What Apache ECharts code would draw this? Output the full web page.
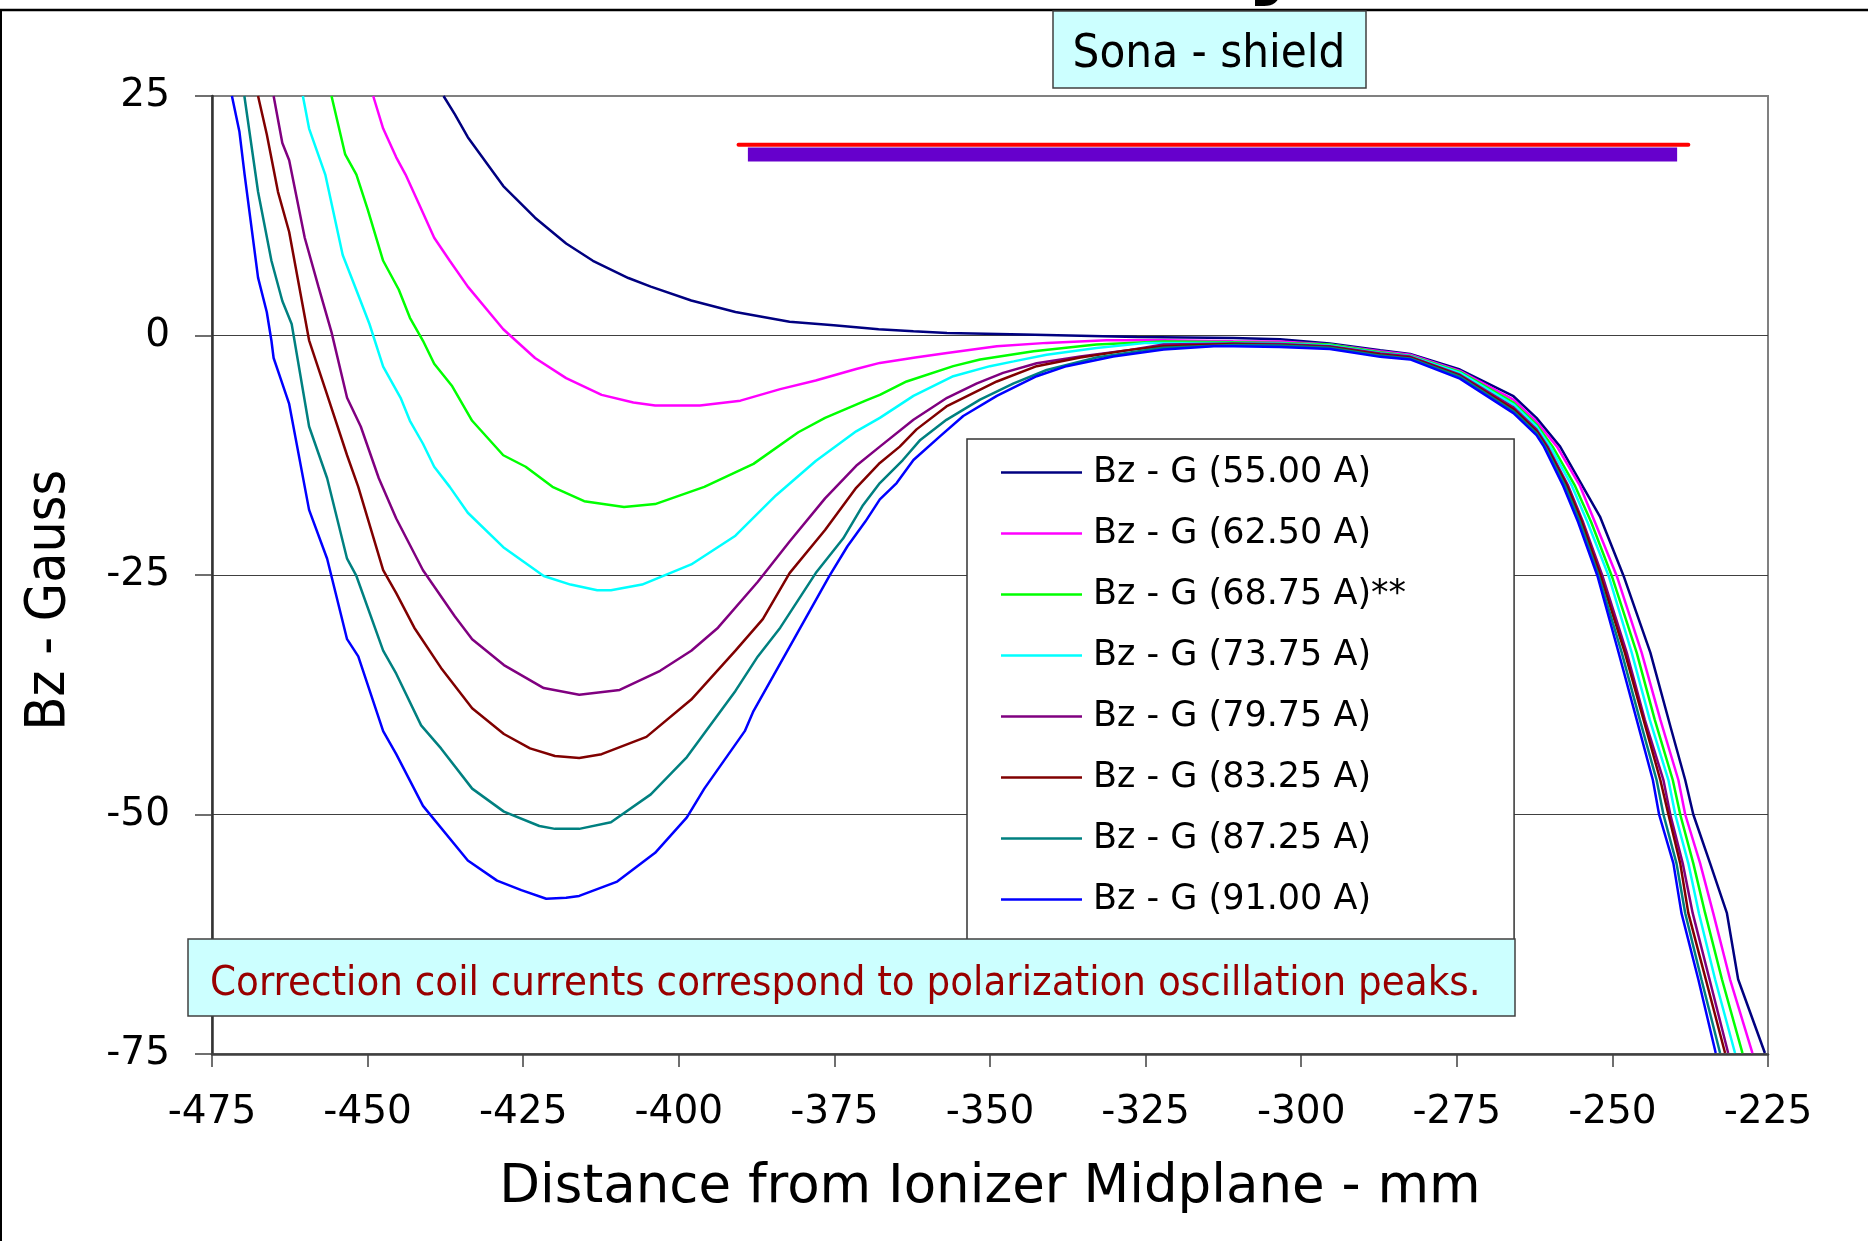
<!DOCTYPE html>
<html>
<head>
<meta charset="utf-8">
<script src="https://cdn.jsdelivr.net/npm/echarts@6/dist/echarts.min.js"></script>
<style>
html,body{margin:0;padding:0;background:#fff;}
#c{width:1868px;height:1241px;}
</style>
</head>
<body>
<div id="c"></div>
<script>
// ---------- data (x = distance mm, y = Bz gauss) ----------
const seriesNames = ['Bz - G (55.00 A)','Bz - G (62.50 A)','Bz - G (68.75 A)**','Bz - G (73.75 A)',
                     'Bz - G (79.75 A)','Bz - G (83.25 A)','Bz - G (87.25 A)','Bz - G (91.00 A)'];
const seriesColors = ['#000080','#FF00FF','#00FF00','#00FFFF','#800080','#800000','#008080','#0000FF'];

const bz5500 = [[-437.8,25],[-436.0,23.1],[-433.9,20.7],[-428.2,15.6],[-423.1,12.3],[-418.1,9.6],[-413.8,7.8],
  [-408.1,6.0],[-404.5,5.1],[-398.0,3.65],[-390.9,2.45],[-382.2,1.43],[-375.1,1.07],[-367.9,0.65],[-362.3,0.45],
  [-356.9,0.27],[-344.6,0.1],[-326.4,-0.15],[-310.9,-0.25],[-303.4,-0.4],[-295.4,-0.84],[-287.3,-1.54],
  [-282.5,-1.92],[-274.5,-3.55],[-265.9,-6.34],[-262.2,-8.6],[-258.4,-11.6],[-252.0,-18.9],[-248.2,-25.1],
  [-246.1,-29.0],[-243.9,-33.1],[-240.6,-41.0],[-238.3,-46.4],[-237.0,-50.0],[-234.3,-55.1],[-231.6,-60.3],
  [-229.8,-67.2],[-225.5,-74.9]];
const bz6250 = [[-449.1,25],[-447.5,21.6],[-445.4,18.6],[-443.9,16.8],[-441.8,13.8],[-439.3,10.2],[-436.8,7.8],
  [-433.9,5.1],[-428.2,0.65],[-423.1,-2.35],[-418.1,-4.45],[-412.4,-6.2],[-407.3,-7.0],[-403.8,-7.3],[-396.6,-7.3],
  [-390.1,-6.8],[-383.7,-5.6],[-378.0,-4.7],[-371.5,-3.5],[-367.7,-2.86],[-362.0,-2.3],[-356.9,-1.82],
  [-348.9,-1.12],[-340.9,-0.77],[-331.3,-0.49],[-322.1,-0.49],[-310.9,-0.6],[-303.4,-0.63],[-295.4,-0.95],
  [-287.3,-1.64],[-282.5,-2.0],[-274.5,-3.7],[-265.9,-6.7],[-262.2,-9.0],[-258.9,-11.6],[-255.2,-15.7],
  [-252.8,-19.5],[-249.3,-25.1],[-245.3,-33.1],[-242.3,-40.1],[-239.4,-46.4],[-238.3,-50.0],[-235.9,-55.1],
  [-233.8,-60.3],[-231.1,-67.2],[-227.5,-74.9]];
const bz6875 = [[-455.8,25],[-453.6,18.9],[-451.8,16.8],[-450.0,13.2],[-447.5,7.8],[-445.0,4.8],[-443.2,1.85],
  [-441.1,-0.55],[-439.3,-2.95],[-436.4,-5.3],[-433.2,-8.9],[-428.2,-12.5],[-424.6,-13.7],[-420.3,-15.8],
  [-415.2,-17.3],[-408.8,-17.9],[-403.8,-17.6],[-395.9,-15.8],[-388.0,-13.4],[-380.8,-10.1],[-376.5,-8.6],
  [-370.0,-6.8],[-367.7,-6.2],[-363.4,-4.8],[-355.9,-3.2],[-351.6,-2.5],[-343.0,-1.64],[-332.9,-0.95],
  [-322.1,-0.63],[-310.9,-0.7],[-303.4,-0.77],[-295.4,-0.95],[-287.3,-1.75],[-282.5,-2.1],[-274.5,-3.8],
  [-265.9,-7.0],[-262.2,-9.3],[-259.6,-11.6],[-256.0,-15.7],[-253.4,-19.5],[-250.1,-25.1],[-246.1,-33.1],
  [-243.2,-40.1],[-240.3,-46.4],[-239.1,-50.0],[-237.0,-55.1],[-235.1,-60.3],[-232.4,-67.2],[-229.1,-74.9]];
const bz7375 = [[-460.4,25],[-459.4,21.6],[-456.8,16.8],[-454.0,8.4],[-452.2,5.4],[-449.7,1.2],[-447.5,-3.25],
  [-444.7,-6.5],[-443.2,-8.9],[-441.1,-11.3],[-439.3,-13.7],[-436.8,-15.8],[-433.9,-18.5],[-428.2,-22.1],
  [-421.7,-25.1],[-417.4,-26.0],[-413.1,-26.6],[-410.9,-26.6],[-405.9,-26.0],[-398.0,-23.9],[-390.9,-20.9],
  [-384.4,-16.7],[-378.0,-13.1],[-371.5,-10.0],[-367.7,-8.6],[-362.3,-6.3],[-355.9,-4.25],[-350.0,-3.2],
  [-346.2,-2.7],[-340.9,-2.0],[-332.9,-1.3],[-324.8,-0.77],[-310.9,-0.77],[-303.4,-0.84],[-295.4,-1.05],
  [-287.3,-1.82],[-282.5,-2.15],[-274.5,-3.9],[-265.9,-7.2],[-262.2,-9.5],[-260.0,-11.6],[-256.5,-15.7],
  [-254.0,-19.5],[-250.6,-25.1],[-246.9,-33.1],[-244.0,-40.1],[-241.0,-46.4],[-239.9,-50.0],[-237.8,-55.1],
  [-236.1,-60.3],[-233.5,-67.2],[-230.3,-74.9]];
const bz7975 = [[-465.1,25],[-463.7,20.1],[-462.6,18.3],[-460.1,10.2],[-457.9,5.1],[-455.8,0.35],[-453.3,-6.5],
  [-451.1,-9.5],[-448.2,-14.9],[-445.4,-19.1],[-441.1,-24.5],[-436.0,-29.3],[-433.2,-31.7],[-428.1,-34.4],
  [-421.7,-36.8],[-416.0,-37.5],[-409.5,-37.0],[-403.0,-35.0],[-398.0,-32.9],[-393.7,-30.5],[-387.3,-25.7],
  [-382.2,-21.5],[-376.5,-17.0],[-371.5,-13.6],[-367.7,-11.6],[-362.3,-8.8],[-356.9,-6.5],[-352.1,-5.0],
  [-347.9,-3.9],[-342.5,-2.9],[-335.5,-2.2],[-327.5,-1.5],[-322.1,-0.95],[-310.9,-0.84],[-303.4,-0.9],
  [-295.4,-1.12],[-287.3,-1.89],[-282.5,-2.2],[-274.5,-4.1],[-265.9,-7.5],[-262.2,-9.8],[-260.4,-11.6],
  [-257.1,-15.7],[-254.7,-19.5],[-251.6,-25.1],[-247.7,-33.1],[-244.8,-40.1],[-241.8,-46.4],[-240.7,-50.0],
  [-238.7,-55.1],[-237.1,-60.3],[-234.4,-67.2],[-231.4,-74.9]];
const bz8325 = [[-467.6,25],[-466.2,21.0],[-464.4,15.0],[-462.6,10.8],[-459.4,-0.5],[-456.8,-5.6],[-453.3,-12.5],
  [-451.5,-15.8],[-447.5,-24.5],[-445.4,-26.9],[-442.5,-30.5],[-438.2,-34.7],[-433.2,-38.9],[-428.1,-41.6],
  [-423.9,-43.1],[-419.9,-43.9],[-416.0,-44.1],[-412.4,-43.7],[-405.2,-41.9],[-398.0,-38.0],[-390.9,-32.9],
  [-386.5,-29.6],[-382.2,-24.8],[-376.5,-20.3],[-371.5,-15.9],[-367.7,-13.3],[-364.5,-11.6],[-361.8,-9.8],
  [-357.0,-7.4],[-348.9,-4.8],[-342.5,-3.2],[-335.5,-2.3],[-327.5,-1.5],[-322.1,-1.12],[-310.9,-0.9],
  [-303.4,-0.98],[-295.4,-1.19],[-287.3,-1.99],[-282.5,-2.3],[-274.5,-4.2],[-265.9,-7.7],[-262.2,-10.0],
  [-260.6,-11.6],[-257.3,-15.7],[-254.9,-19.5],[-251.9,-25.1],[-248.0,-33.1],[-245.0,-40.1],[-242.3,-46.4],
  [-241.0,-50.0],[-239.1,-55.1],[-237.8,-60.3],[-235.0,-67.2],[-231.9,-74.9]];
const bz8725 = [[-469.8,25],[-467.6,15.0],[-465.45,7.8],[-463.7,3.6],[-462.2,1.2],[-459.4,-9.5],[-456.5,-14.9],
  [-453.3,-23.3],[-451.8,-25.1],[-447.5,-32.9],[-445.4,-35.3],[-441.4,-40.7],[-438.2,-43.1],[-433.2,-47.3],
  [-428.1,-49.7],[-422.4,-51.2],[-419.9,-51.5],[-416.0,-51.5],[-410.9,-50.8],[-404.5,-47.9],[-398.7,-44.0],
  [-390.9,-37.1],[-387.3,-33.5],[-383.7,-30.5],[-378.0,-24.8],[-373.6,-21.2],[-370.5,-17.8],[-367.7,-15.4],
  [-364.0,-13.0],[-361.2,-10.9],[-357.0,-8.8],[-351.6,-6.7],[-346.2,-5.0],[-340.9,-3.6],[-332.9,-2.3],
  [-324.8,-1.5],[-322.1,-1.29],[-310.9,-1.0],[-303.4,-1.05],[-295.4,-1.29],[-287.3,-2.1],[-282.5,-2.4],
  [-274.5,-4.3],[-265.9,-7.9],[-262.2,-10.2],[-260.8,-11.6],[-257.6,-15.7],[-255.2,-19.5],[-252.2,-25.1],
  [-248.5,-33.1],[-245.6,-40.1],[-242.9,-46.4],[-241.8,-50.0],[-239.7,-55.1],[-238.3,-60.3],[-235.7,-67.2],
  [-232.7,-74.9]];
const bz9100 = [[-471.8,25],[-470.6,21.3],[-469.76,16.8],[-467.6,6.04],[-466.2,2.45],[-465.45,-0.55],[-465.1,-2.35],
  [-464.0,-4.44],[-462.6,-7.14],[-459.4,-18.2],[-456.5,-23.3],[-453.3,-31.7],[-451.5,-33.5],[-447.5,-41.3],
  [-445.4,-43.7],[-441.1,-49.1],[-433.9,-54.8],[-429.2,-56.9],[-425.3,-57.9],[-421.3,-58.8],[-418.1,-58.7],
  [-416.0,-58.5],[-409.9,-57.0],[-403.8,-54.0],[-398.7,-50.3],[-395.9,-47.3],[-389.4,-41.3],[-388.0,-39.2],
  [-381.5,-31.7],[-375.8,-25.1],[-372.9,-22.0],[-370.0,-19.4],[-367.7,-17.1],[-365.0,-15.4],[-362.3,-13.0],
  [-358.0,-10.5],[-354.3,-8.4],[-348.9,-6.3],[-342.5,-4.25],[-337.7,-3.2],[-330.2,-2.2],[-322.1,-1.47],
  [-314.1,-1.12],[-310.9,-1.12],[-303.4,-1.2],[-295.4,-1.4],[-287.3,-2.23],[-282.5,-2.5],[-274.5,-4.5],
  [-265.9,-8.1],[-262.2,-10.4],[-261.0,-11.6],[-257.9,-15.7],[-255.5,-19.5],[-252.4,-25.1],[-249.0,-33.1],
  [-246.1,-40.1],[-243.5,-46.4],[-242.5,-50.0],[-240.2,-55.1],[-238.9,-60.3],[-236.2,-67.2],[-233.4,-74.9]];

// shield markers
const shieldRedX = [-390.4, -237.8];
const shieldRedY = 19.9;
const shieldBarX = [-388.9, -239.6];
const shieldBarY = 18.9;

// axes
const xMin = -475, xMax = -225, xStep = 25;
const yMin = -75, yMax = 25, yStep = 25;

// texts
const xTitle = 'Distance from Ionizer Midplane - mm';
const yTitle = 'Bz - Gauss';
const boxTitle = 'Sona - shield';
const noteText = 'Correction coil currents correspond to polarization oscillation peaks.';

// ---------- chart ----------
const curves = [bz5500, bz6250, bz6875, bz7375, bz7975, bz8325, bz8725, bz9100];
const REG = '"DejaVu Sans", Verdana, sans-serif';
const COND = '"DejaVu Sans Condensed", "DejaVu Sans", sans-serif';

const series = curves.map((d, i) => ({
  name: seriesNames[i], type: 'line', data: d, symbol: 'none', showSymbol: false,
  color: seriesColors[i], itemStyle: { color: seriesColors[i] },
  lineStyle: { color: seriesColors[i], width: 2.5 },
  clip: true, z: 3, emphasis: { disabled: true }, silent: true
}));
series.push({
  name: 'shieldBar', type: 'line', symbol: 'none', silent: true, z: 3,
  data: shieldBarX.map(x => [x, shieldBarY]),
  lineStyle: { color: '#6600CC', width: 14, cap: 'butt' }
});
series.push({
  name: 'shieldRed', type: 'line', symbol: 'none', silent: true, z: 3,
  data: shieldRedX.map(x => [x, shieldRedY]),
  lineStyle: { color: '#FF0000', width: 4, cap: 'round' }
});

const chart = echarts.init(document.getElementById('c'), null, { renderer: 'canvas' });
chart.setOption({
  animation: false,
  backgroundColor: '#ffffff',
  grid: { left: 212, top: 96, width: 1556, height: 958, show: true,
          borderColor: '#808080', borderWidth: 2, backgroundColor: 'rgba(0,0,0,0)' },
  xAxis: {
    type: 'value', min: xMin, max: xMax, interval: xStep,
    axisLine: { show: true, onZero: false, lineStyle: { color: '#404040', width: 2.5 } },
    axisTick: { show: true, inside: false, length: 13, lineStyle: { color: '#404040', width: 1.5 } },
    axisLabel: { fontFamily: REG, fontSize: 39, color: '#000', margin: 39 },
    splitLine: { show: false }
  },
  yAxis: {
    type: 'value', min: yMin, max: yMax, interval: yStep,
    axisLine: { show: true, onZero: false, lineStyle: { color: '#333333', width: 2.5 } },
    axisTick: { show: true, inside: false, length: 17, lineStyle: { color: '#404040', width: 1.5 } },
    axisLabel: { fontFamily: REG, fontSize: 39, color: '#000', margin: 42 },
    splitLine: { show: true, showMinLine: false, showMaxLine: false,
                 lineStyle: { color: '#404040', width: 1.2 } }
  },
  legend: {
    data: seriesNames, orient: 'vertical', left: 967, top: 439,
    backgroundColor: '#ffffff', borderColor: '#333333', borderWidth: 1.5,
    padding: [16, 108, 30, 34], icon: 'rect', itemWidth: 81, itemHeight: 2.5, itemGap: 26,
    textStyle: { fontFamily: REG, fontSize: 35, color: '#000', lineHeight: 35, padding: [0, 0, 0, 6] },
    selectedMode: false, z: 5
  },
  graphic: [
    { type: 'text', x: 1246, y: -37, z: 50, style: { text: 'y', fontFamily: REG, fontWeight: 'bold',
      fontSize: 90, fill: '#000', textAlign: 'left', align: 'left', textVerticalAlign: 'middle', verticalAlign: 'middle' } },
    { type: 'line', z: 51, shape: { x1: 0, y1: 10, x2: 1868, y2: 10 }, style: { stroke: '#000', lineWidth: 2.5 } },
    { type: 'line', z: 51, shape: { x1: 1, y1: 10, x2: 1, y2: 1241 }, style: { stroke: '#000', lineWidth: 2 } },
    { type: 'rect', z: 52, shape: { x: 1053, y: 11, width: 313, height: 77 },
      style: { fill: '#CCFFFF', stroke: '#404040', lineWidth: 1.5 } },
    { type: 'text', z: 53, x: 1209, y: 55, style: { text: boxTitle, fontFamily: COND, fontSize: 47, fill: '#000',
      textAlign: 'center', align: 'center', textVerticalAlign: 'middle', verticalAlign: 'middle' } },
    { type: 'rect', z: 60, shape: { x: 188, y: 939, width: 1327, height: 77 },
      style: { fill: '#CCFFFF', stroke: '#404040', lineWidth: 1.5 } },
    { type: 'text', z: 61, x: 210, y: 984, style: { text: noteText, fontFamily: COND, fontSize: 41.5, fill: '#990000',
      textAlign: 'left', align: 'left', textVerticalAlign: 'middle', verticalAlign: 'middle' } },
    { type: 'text', z: 61, x: 50, y: 600, rotation: Math.PI / 2, style: { text: yTitle, fontFamily: COND,
      fontSize: 55, fill: '#000', textAlign: 'center', align: 'center', textVerticalAlign: 'middle', verticalAlign: 'middle' } },
    { type: 'text', z: 61, x: 990, y: 1188, style: { text: xTitle, fontFamily: REG, fontSize: 53, fill: '#000',
      textAlign: 'center', align: 'center', textVerticalAlign: 'middle', verticalAlign: 'middle' } }
  ],
  series: series
});
</script>
</body>
</html>
